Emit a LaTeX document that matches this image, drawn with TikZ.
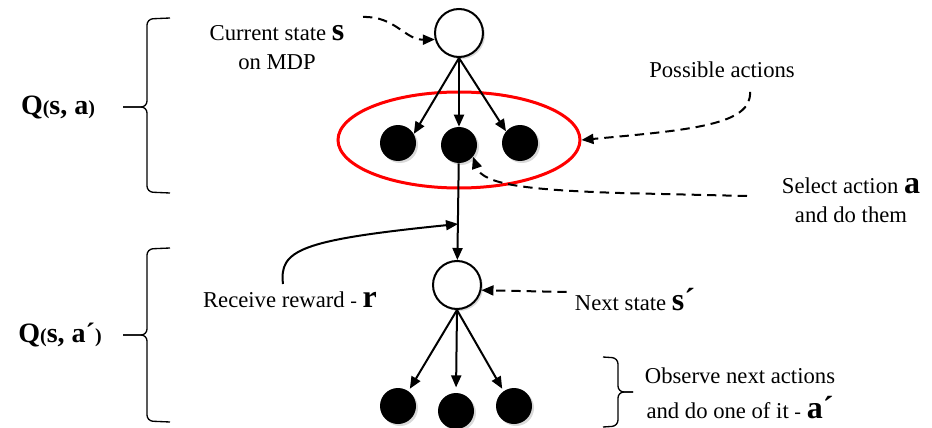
\documentclass[tikz,border=0pt]{standalone}
\usepackage{fontspec}
\setmainfont{Liberation Serif}
\usetikzlibrary{arrows.meta, shapes.geometric, shadows}

\newcommand{\varb}[1]{{\fontsize{24}{24}\selectfont\bfseries #1}}
\newcommand{\qpar}[1]{{\fontsize{15}{15}\selectfont #1}}

\begin{document}
\begin{tikzpicture}[x=0.75pt, y=-0.75pt, >={Triangle[length=9pt,width=7.5pt]},
    state/.style={circle, draw, line width=1.5pt, fill=white, minimum size=36pt,
                  inner sep=0pt, drop shadow={shadow xshift=1.5pt, shadow yshift=-1.5pt, opacity=0.3}},
    act/.style={circle, fill=black, minimum size=27pt, inner sep=0pt,
                drop shadow={shadow xshift=1.5pt, shadow yshift=-1.5pt, opacity=0.3}},
    txt/.style={font=\rmfamily\fontsize{17}{21.75}\selectfont, align=center, inner sep=0pt},
    qlab/.style={font=\rmfamily\fontsize{21}{21}\selectfont\bfseries, inner sep=0pt},
    link/.style={->, line width=1.5pt},
    hint/.style={->, line width=1.5pt, dash pattern=on 7pt off 4.5pt},
    brc/.style={line width=1pt, rounded corners=4.5pt}]
    \useasboundingbox (0,0) rectangle (932,428);

    \node[draw=red, line width=2.25pt, ellipse, minimum width=181.5pt,
          minimum height=72pt, inner sep=0pt] (opts) at (459,140) {};

    \node[state] (s0) at (459,33) {};
    \node[act] (a1) at (398,143) {};
    \node[act] (a2) at (459,145) {};
    \node[act] (a3) at (520,143) {};
    \node[state] (s1) at (457,285) {};
    \node[act] (b1) at (398,406) {};
    \node[act] (b2) at (456,411) {};
    \node[act] (b3) at (514,406) {};

    \node[txt] (cur) at (277,48) {Current state \varb{s}\\on MDP};
    \node[txt] (pos) at (722,70) {Possible actions};
    \node[txt] (sel) at (851,200) {Select action \varb{a}\\and do them};
    \node[txt] (rcv) at (290,300) {Receive reward \qpar{-} \varb{r}};
    \node[txt] (ns) at (635,300) {Next state \varb{s\char"00B4}};
    \node[txt, font=\rmfamily\fontsize{17}{26}\selectfont] (obs) at (740,393)
        {Observe next actions\\and do one of it \qpar{-} \varb{a\char"00B4}};
    \node[qlab] (q1) at (58,107) {Q\qpar{(}s, a\qpar{)}};
    \node[qlab] (q2) at (60,335) {Q\qpar{(}s, a\char"00B4\qpar{)}};

    \coordinate (cs) at (363,17);
    \coordinate (pa) at (750,92);
    \coordinate (sa) at (747,196);
    \coordinate (rs) at (283,284);
    \coordinate (rw) at (458,224);

    \draw[link] (s0.south) -- (a1.30);
    \draw[link] (s0.south) -- (a2.north);
    \draw[link] (s0.south) -- (a3.140);
    \draw[link] (a2) -- (s1);
    \draw[link, shorten >=2pt] (s1.south) -- (b1.55);
    \draw[link, shorten >=4pt] (s1.south) -- (b2.north);
    \draw[link, shorten >=2pt] (s1.south) -- (b3.125);
    \draw[link] (rs) .. controls (279,250) and (300,240) .. (rw);

    \draw[hint] (cs) .. controls (395,16) and (405,40) .. (s0.195);
    \draw[hint] (pa) .. controls (752,125) and (690,130) .. (opts.east);
    \draw[hint] (sa) -- (620,193) .. controls (530,190) and (483,185) .. (a2.-40);
    \draw[hint] ([xshift=-6pt, yshift=6pt]ns.west) -- (s1.-12);

    \draw[brc] (170,18) -- (147,19) -- (147,107) -- (123,107);
    \draw[brc] (170,193) -- (147,192) -- (147,107) -- (123,107);
    \draw[brc] (170,248) -- (147,249) -- (147,335) -- (123,335);
    \draw[brc] (170,422) -- (147,421) -- (147,335) -- (123,335);
    \draw[brc] (603,357) -- (618,358) -- (618,392) -- (633,392);
    \draw[brc] (603,427) -- (618,426) -- (618,392) -- (633,392);
\end{tikzpicture}
\end{document}
